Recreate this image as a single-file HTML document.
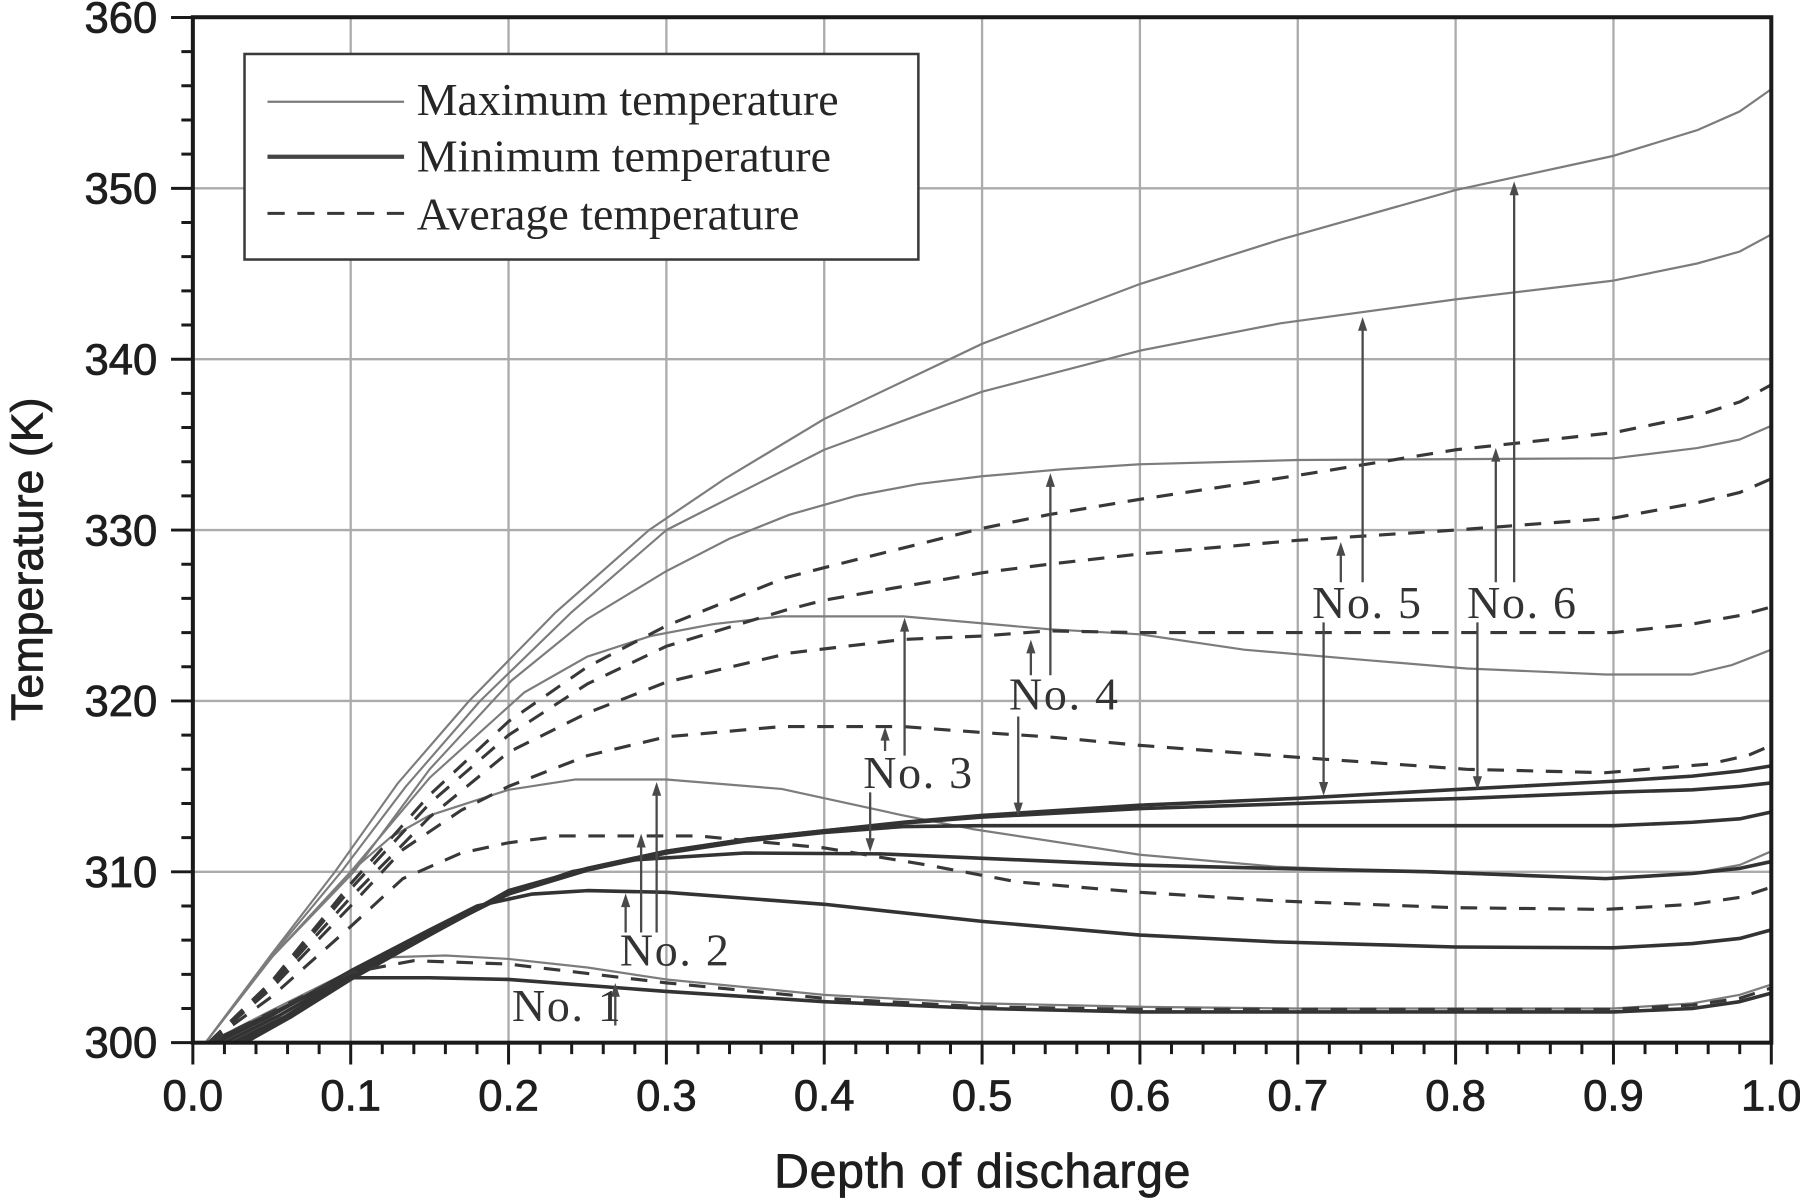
<!DOCTYPE html>
<html><head><meta charset="utf-8"><style>
html,body{margin:0;padding:0;background:#fff;}
svg{display:block;}
.mx{fill:none;stroke:#7c7c7c;stroke-width:1.3;stroke-linejoin:round;}
.mn{fill:none;stroke:#333;stroke-width:2.1;stroke-linejoin:round;}
.av{fill:none;stroke:#383838;stroke-width:1.85;stroke-dasharray:10.5 8;stroke-linejoin:round;}
.ar{stroke:#4a4a4a;stroke-width:2;fill:none;}
.ah{fill:#4a4a4a;}
.lab{font-family:"Liberation Serif",serif;font-size:40px;fill:#333;letter-spacing:1.5px;}
.tk{font-family:"Liberation Sans",sans-serif;font-size:38px;fill:#1e1e1e;stroke:#1e1e1e;stroke-width:0.7px;}
</style></head><body>
<svg width="1800" height="1200" viewBox="0 0 1568 1045" preserveAspectRatio="none" xmlns="http://www.w3.org/2000/svg">
<rect x="0" y="0" width="1568" height="1045" fill="#fff"/>
<!-- grid -->
<g stroke="#ababab" stroke-width="2">
<path d="M305.5 15V908M443 15V908M580.5 15V908M718 15V908M855.5 15V908M993 15V908M1130.5 15V908M1268 15V908M1405.5 15V908"/>
<path d="M168 759.2H1543M168 610.4H1543M168 461.6H1543M168 312.8H1543M168 164H1543"/>
</g>
<!-- curves in data space: x=d*1000, y=(T-300)*10 -->
<g transform="translate(168,908) scale(1.375,-1.488)">
<!-- maximum -->
<path class="mx" d="M8 0L50 52L90 100L130 152L175 200L230 252L289 300L337 330L400 365L500 409L600 444L689 470L800 499L900 519L953 534L980 545L1000 558"/>
<path class="mx" d="M8 0L50 51L94 100L135 150L182 200L240 252L300 300L366 331L400 347L500 381L600 405L689 421L800 435L900 446L953 456L980 463L1000 473"/>
<path class="mx" d="M8 0L50 50L102 100L150 160L202 212L250 248L300 276L340 295L378 309L420 320L460 327L500 331.5L550 335.5L600 338.5L700 341L900 342L953 348L980 353L1000 361"/>
<path class="mx" d="M8 0L50 50L100 100L150 155L210 205L250 226L290 238L330 245L373 249.5L450 249.5L542 242L600 239L666 230L742 224L807 219L895 215.5L950 215.5L975 221L1000 230"/>
<path class="mx" d="M8 0L50 50L100 100L125 120L150 133L200 148L242 154L300 154L373 148.5L450 133L494 125L600 110L686 103L800 99L900 96L950 99L980 104L1000 112"/>
<path class="mx" d="M10 0L50 19L100 42L125 50L160 51L200 49L250 44L300 37L400 28L500 23L600 21L700 20L900 20L950 23L980 28L1000 34"/>
<!-- minimum -->
<path class="mn" d="M10 0L50 17L95 38L150 38L200 37L300 30L400 24L500 20L600 18L900 18L950 20L980 24L1000 29"/>
<path class="mn" d="M15 0L50 16L100 42L150 66L180 80L215 87L250 89L300 88L400 81L500 71L600 63L686 59L800 56L900 55.5L950 58L980 61L1000 66"/>
<path class="mn" d="M20 0L55 16L100 40L150 65L200 87L240 100L280 107L350 111L436 110.5L523 107L596 104L686 102L785 100L895 96L950 99L980 102L1000 106"/>
<path class="mn" d="M25 0L58 15L100 39L150 64L200 87L250 101L300 111L350 118L400 123L450 126.5L500 127L600 127L900 127L950 129L980 131L1000 135"/>
<path class="mn" d="M30 0L60 15L100 38L150 63L200 88L250 102L300 112L350 119L400 124L450 128.5L500 132L600 137L700 140L807 143L900 146.6L950 148L980 150L1000 152"/>
<path class="mn" d="M33 0L62 15L100 37L150 63L200 89L250 102L300 112L350 119L400 124L450 129L500 133L600 139L700 143L807 148.5L900 153L950 156L980 159L1000 162"/>
<!-- average -->
<path class="av" d="M10 0L50 18L100 41L140 48L200 46L300 35L400 26L500 21L600 19.5L900 19.5L950 22L980 26L1000 32"/>
<path class="av" d="M10 0L50 27L100 68L133 96L170 111L200 117L233 121L320 121L400 114L465 104L523 94L600 88L686 83L800 79L895 78L950 81L980 85L1000 91"/>
<path class="av" d="M10 0L50 32L100 80L133 113L170 136L200 150L250 168L300 179L373 185L450 185L500 181.5L542 179L600 174L700 167L807 160L895 158L960 163L985 168L1000 174"/>
<path class="av" d="M10 0L50 34L100 85L150 132L200 170L250 193L300 211L378 228L450 236L500 238L542 241L600 240L900 240L950 245L980 250L1000 255"/>
<path class="av" d="M10 0L50 35L100 90L150 140L200 180L250 210L300 232L375 253L400 259L500 275L542 280L600 286L700 294L800 300L900 307L953 316L980 322L1000 330"/>
<path class="av" d="M10 0L50 36L100 93L150 145L200 188L250 220L300 244L375 272L400 278L500 301L542 309L600 318L700 332L800 347L900 357L953 367L980 375L1000 385"/>
</g>
<!-- annotation arrows -->
<g class="ar">
<path d="M536 893V866M545 812V788M558.5 812V736M572 812V690M758 690V732M771 654V643M788 658V548M887 624V700M898 588V567M915 588V422M1153 542V682M1168 507V482M1187 507V286M1287 542V677M1303 507V400M1319 507V168"/>
</g>
<g class="ah">
<polygon points="536,856 532,868 540,868"/>
<polygon points="545,778 541,790 549,790"/>
<polygon points="558.5,726 554.5,738 562.5,738"/>
<polygon points="572,681 568,693 576,693"/>
<polygon points="758,742 754,730 762,730"/>
<polygon points="771,633 767,645 775,645"/>
<polygon points="788,538 784,550 792,550"/>
<polygon points="887,711 883,699 891,699"/>
<polygon points="898,557 894,569 902,569"/>
<polygon points="915,412 911,424 919,424"/>
<polygon points="1153,693 1149,681 1157,681"/>
<polygon points="1168,472 1164,484 1172,484"/>
<polygon points="1187,276 1183,288 1191,288"/>
<polygon points="1287,688 1283,676 1291,676"/>
<polygon points="1303,390 1299,402 1307,402"/>
<polygon points="1319,158 1315,170 1323,170"/>
</g>
<text class="lab" x="446" y="889">No. 1</text>
<text class="lab" x="540" y="841">No. 2</text>
<text class="lab" x="752" y="686">No. 3</text>
<text class="lab" x="879" y="618">No. 4</text>
<text class="lab" x="1143" y="538">No. 5</text>
<text class="lab" x="1278" y="538">No. 6</text>
<!-- frame -->
<rect x="168" y="15" width="1375" height="893" fill="none" stroke="#1a1a1a" stroke-width="3.5"/>
<!-- ticks -->
<g stroke="#1a1a1a" stroke-width="2.6">
<path d="M195.5 908v10M223 908v10M250.5 908v10M278 908v10M333 908v10M360.5 908v10M388 908v10M415.5 908v10M470.5 908v10M498 908v10M525.5 908v10M553 908v10M608 908v10M635.5 908v10M663 908v10M690.5 908v10M745.5 908v10M773 908v10M800.5 908v10M828 908v10M883 908v10M910.5 908v10M938 908v10M965.5 908v10M1020.5 908v10M1048 908v10M1075.5 908v10M1103 908v10M1158 908v10M1185.5 908v10M1213 908v10M1240.5 908v10M1295.5 908v10M1323 908v10M1350.5 908v10M1378 908v10M1433 908v10M1460.5 908v10M1488 908v10M1515.5 908v10"/>
<path d="M168 908v19M305.5 908v19M443 908v19M580.5 908v19M718 908v19M855.5 908v19M993 908v19M1130.5 908v19M1268 908v19M1405.5 908v19M1543 908v19"/>
<path d="M168 878.2h-10M168 848.5h-10M168 818.7h-10M168 789h-10M168 729.4h-10M168 699.7h-10M168 669.9h-10M168 640.2h-10M168 580.6h-10M168 550.9h-10M168 521.1h-10M168 491.4h-10M168 431.8h-10M168 402.1h-10M168 372.3h-10M168 342.6h-10M168 283h-10M168 253.3h-10M168 223.5h-10M168 193.8h-10M168 134.2h-10M168 104.5h-10M168 74.7h-10M168 45h-10"/>
<path d="M168 908h-19M168 759.2h-19M168 610.4h-19M168 461.6h-19M168 312.8h-19M168 164h-19M168 15.2h-19"/>
</g>
<!-- tick labels -->
<g class="tk" text-anchor="middle">
<text x="168" y="967">0.0</text>
<text x="305.5" y="967">0.1</text>
<text x="443" y="967">0.2</text>
<text x="580.5" y="967">0.3</text>
<text x="718" y="967">0.4</text>
<text x="855.5" y="967">0.5</text>
<text x="993" y="967">0.6</text>
<text x="1130.5" y="967">0.7</text>
<text x="1268" y="967">0.8</text>
<text x="1405.5" y="967">0.9</text>
<text x="1543" y="967">1.0</text>
</g>
<g class="tk" text-anchor="end">
<text x="137" y="921">300</text>
<text x="137" y="772.5">310</text>
<text x="137" y="623.5">320</text>
<text x="137" y="475">330</text>
<text x="137" y="326">340</text>
<text x="137" y="177">350</text>
<text x="137" y="28.5">360</text>
</g>
<text x="856" y="1034" text-anchor="middle" style="font-family:'Liberation Sans',sans-serif;font-size:42px;letter-spacing:0.6px;fill:#1e1e1e;stroke:#1e1e1e;stroke-width:0.7px;">Depth of discharge</text>
<text transform="translate(37,487) rotate(-90)" text-anchor="middle" style="font-family:'Liberation Sans',sans-serif;font-size:39px;fill:#1e1e1e;stroke:#1e1e1e;stroke-width:0.7px;">Temperature (K)</text>
<!-- legend -->
<rect x="213" y="47" width="587" height="179" fill="#fff" stroke="#3a3a3a" stroke-width="2.2"/>
<line x1="233" y1="88.6" x2="352" y2="88.6" stroke="#7c7c7c" stroke-width="1.9"/>
<line x1="233" y1="136.5" x2="352" y2="136.5" stroke="#444" stroke-width="3.6"/>
<line x1="233" y1="185.8" x2="352" y2="185.8" stroke="#383838" stroke-width="2.6" stroke-dasharray="15 11"/>
<g style="font-family:'Liberation Serif',serif;font-size:40px;fill:#262626;">
<text x="363" y="100">Maximum temperature</text>
<text x="363" y="149.5">Minimum temperature</text>
<text x="363" y="200">Average temperature</text>
</g>
</svg>
</body></html>
